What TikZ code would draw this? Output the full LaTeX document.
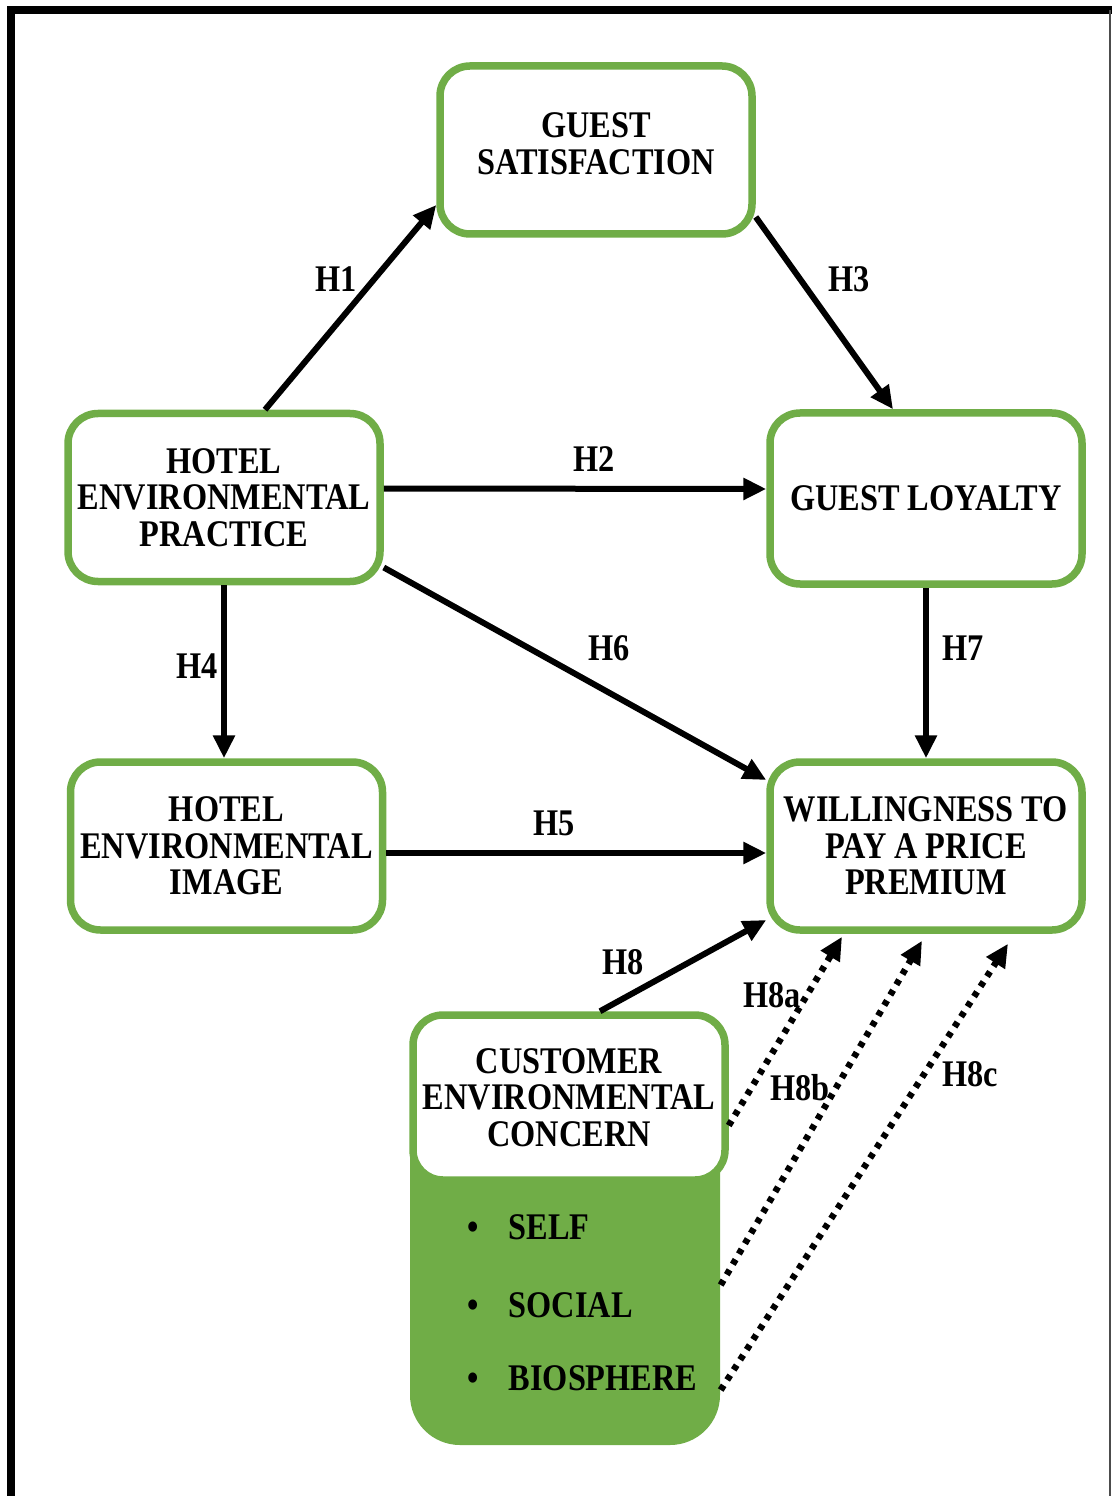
\documentclass[tikz,border=0pt]{standalone}
\usepackage{fontspec}
\setmainfont{Liberation Serif}[FakeStretch=0.86]
\usetikzlibrary{arrows.meta}
\definecolor{boxgreen}{HTML}{70AD47}
\newcommand{\hfont}{\fontsize{10.7pt}{10.4pt}\selectfont\bfseries}
\tikzset{
  cbox/.style={draw=boxgreen, line width=0.075cm, rounded corners=0.3cm, fill=white,
    minimum width=3.12cm, minimum height=1.68cm, inner sep=0pt, align=center, font=\hfont},
  hlabel/.style={font=\hfont, inner sep=0pt},
  harrow/.style={line width=0.06cm, -{Triangle[length=0.23cm,width=0.21cm]}},
  hdots/.style={line width=0.065cm, dash pattern=on 0.055cm off 0.065cm, -{Triangle[length=0.23cm,width=0.21cm]}},
}

\begin{document}
\begin{tikzpicture}
    \useasboundingbox (0,0) rectangle (11.12,-14.96);
    % frame
    \draw[line width=0.08cm] (0.11,-14.96) -- (0.11,-0.10) -- (11.12,-0.10);
    \draw[gray!60!black, line width=0.015cm] (11.10,-0.10) -- (11.10,-14.96);

    \node[cbox] (gs) at (5.96,-1.50) {GUEST\\SATISFACTION\rule[-0.13cm]{0pt}{0pt}};
    \node[cbox] (hep) at (2.24,-4.975) {HOTEL\\ENVIRONMENTAL\\PRACTICE};
    \node[cbox, minimum height=1.71cm] (gl) at (9.26,-4.985) {GUEST LOYALTY};
    \node[cbox] (hei) at (2.265,-8.46) {HOTEL\\ENVIRONMENTAL\\IMAGE};
    \node[cbox] (wtp) at (9.26,-8.46) {WILLINGNESS TO\\PAY A PRICE\\PREMIUM};

    % concern box and its three dimensions
    \node[fill=boxgreen, rounded corners=0.5cm, minimum width=3.10cm, minimum height=4.30cm, inner sep=0pt] (cecfill) at (5.65,-12.30) {};
    \node[cbox, minimum height=1.65cm] (cec) at (5.69,-10.975) {CUSTOMER\\ENVIRONMENTAL\\CONCERN};
    \node[hlabel, anchor=west] (self) at (4.67,-12.27) {\makebox[0.41cm][l]{\textbullet}SELF};
    \node[hlabel, anchor=west] (social) at (4.67,-13.05) {\makebox[0.41cm][l]{\textbullet}SOCIAL};
    \node[hlabel, anchor=west] (bio) at (4.67,-13.78) {\makebox[0.41cm][l]{\textbullet}BIOSPHERE};

    \draw[harrow] ([xshift=0.41cm]hep.north) -- ([yshift=-0.55cm]gs.west);
    \draw[harrow] ([yshift=-0.67cm]gs.east) -- ([xshift=-0.33cm]gl.north);
    \draw[harrow] ([yshift=0.09cm]hep.east) -- ([yshift=0.095cm]gl.west);
    \draw[harrow] (hep.south) -- (hep.south |- hei.north);
    \draw[harrow] ([yshift=-0.70cm]hep.east) -- ([yshift=0.66cm]wtp.west);
    \draw[harrow] (gl.south) -- (wtp.north);
    \draw[harrow] ([yshift=-0.07cm]hei.east) -- ([yshift=-0.07cm]wtp.west);
    \draw[harrow] ([xshift=0.31cm]cec.north) -- ([yshift=-0.74cm]wtp.west);
    \draw[hdots] ([yshift=-0.28cm]cec.east) -- ([xshift=-0.84cm,yshift=-0.03cm]wtp.south);
    \draw[hdots] ([yshift=-0.55cm]cecfill.east) -- ([xshift=-0.04cm,yshift=-0.07cm]wtp.south);
    \draw[hdots] ([yshift=-1.60cm]cecfill.east) -- ([xshift=0.82cm,yshift=-0.10cm]wtp.south);

    \node[hlabel] (lh1) at (3.36,-2.79) {H1};
    \node[hlabel] (lh2) at (5.94,-4.59) {H2};
    \node[hlabel] (lh3) at (8.49,-2.79) {H3};
    \node[hlabel] (lh4) at (1.97,-6.66) {H4};
    \node[hlabel] (lh5) at (5.54,-8.23) {H5};
    \node[hlabel] (lh6) at (6.09,-6.48) {H6};
    \node[hlabel] (lh7) at (9.63,-6.48) {H7};
    \node[hlabel] (lh8) at (6.23,-9.62) {H8};
    \node[hlabel] (lh8a) at (7.72,-9.95) {H8a};
    \node[hlabel] (lh8b) at (8.00,-10.88) {H8b};
    \node[hlabel] (lh8c) at (9.70,-10.74) {H8c};
\end{tikzpicture}
\end{document}
